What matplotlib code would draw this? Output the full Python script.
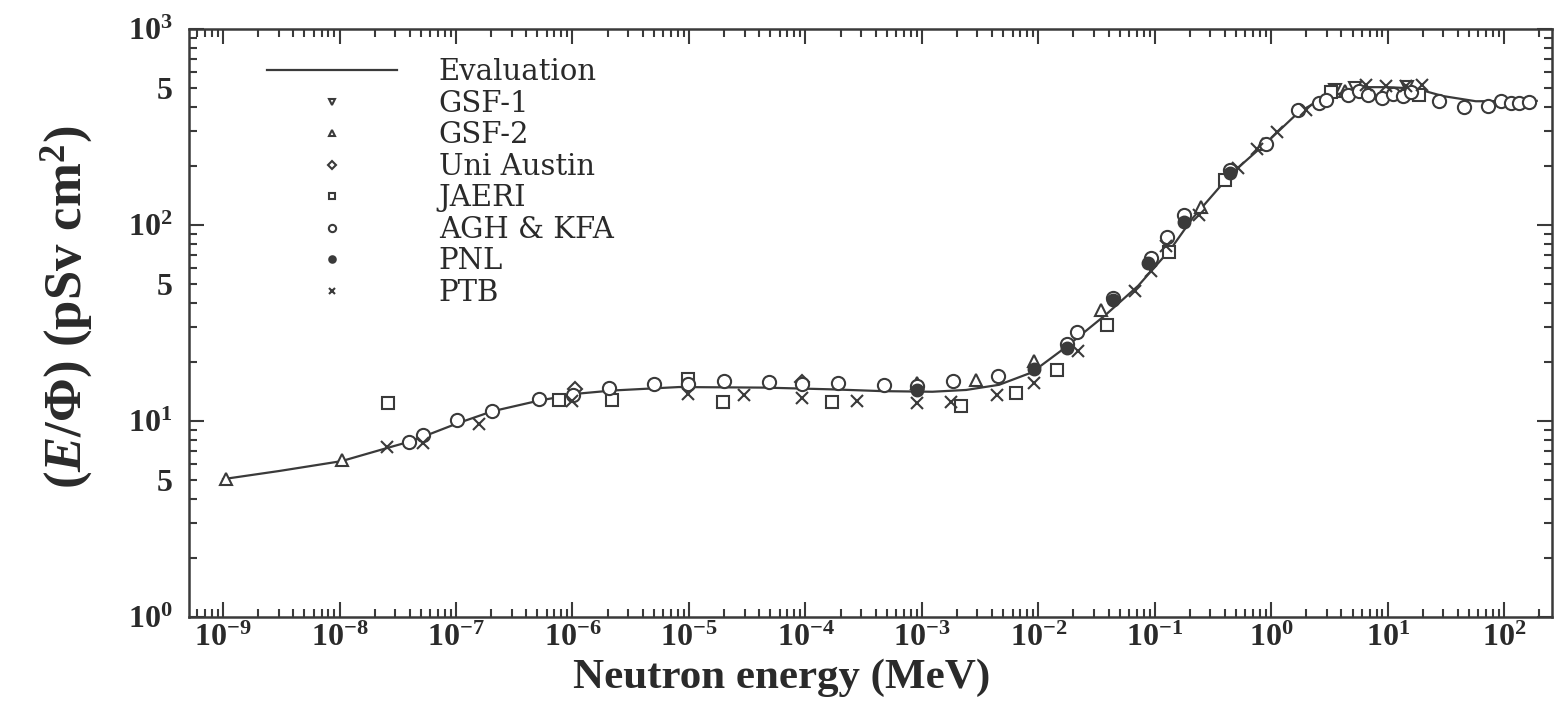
"""
Neutron fluence-to-effective-dose conversion coefficients: evaluation curve
against the measured data sets, log-log plot in the style of the scanned figure.
"""

import numpy as np
import matplotlib
matplotlib.use("Agg")
import matplotlib.pyplot as plt
from matplotlib.lines import Line2D
from matplotlib.legend_handler import HandlerLine2D
from matplotlib.ticker import FuncFormatter, NullFormatter

INK = "#3a3a3a"

# evaluation curve (MeV, pSv cm2)
EVAL_E = [1.0e-9, 3.05e-9, 1.04e-8, 2.58e-8, 4.22e-8, 1.02e-7, 2.04e-7, 5.13e-7,
          1.13e-6, 2.18e-6, 8.2e-6, 4.5e-5, 1.7e-4, 4.6e-4, 1.23e-3, 2.4e-3,
          4.6e-3, 8.8e-3, 1.72e-2, 3.8e-2, 7.2e-2, 0.137, 0.21, 0.45, 0.90,
          1.73, 2.93, 6.5, 10.0, 17.4, 29.7, 57.0, 190.0]
EVAL_H = [5.05, 5.56, 6.24, 7.29, 7.92, 9.71, 11.2, 12.7,
          13.8, 14.3, 14.9, 14.8, 14.5, 14.2, 14.1, 14.4,
          15.3, 17.7, 23.8, 34.9, 49.0, 75.5, 108.0, 182.0, 262.0,
          378.0, 450.0, 505.0, 505.0, 497.0, 455.0, 428.0, 430.0]

GSF1_E = [3.5, 5.2, 14.5]
GSF1_H = [490.0, 500.0, 505.0]

GSF2_E = [1.06e-9, 1.04e-8, 9.1e-4, 2.94e-3, 9.1e-3, 3.47e-2, 0.25, 0.84, 4.3]
GSF2_H = [5.06, 6.31, 15.7, 16.1, 20.3, 36.9, 123.0, 258.0, 485.0]

AUSTIN_E = [1.05e-6, 9.4e-5]
AUSTIN_H = [14.6, 15.9]

JAERI_E = [2.61e-8, 7.62e-7, 2.19e-6, 9.8e-6, 1.95e-5, 1.70e-4, 2.16e-3, 6.4e-3,
           1.45e-2, 3.85e-2, 0.132, 0.40, 3.23, 18.6]
JAERI_H = [12.4, 12.8, 12.8, 16.4, 12.5, 12.5, 11.9, 13.9,
           18.1, 30.9, 72.6, 170.0, 479.0, 458.0]

AGH_E = [3.91e-8, 5.21e-8, 1.02e-7, 2.04e-7, 5.13e-7, 1.02e-6, 2.04e-6, 4.98e-6,
         9.8e-6, 1.99e-5, 4.91e-5, 9.35e-5, 1.90e-4, 4.71e-4, 9.1e-4, 1.84e-3,
         4.51e-3, 1.75e-2, 2.13e-2, 4.38e-2, 9.22e-2, 0.128, 0.177, 0.44, 0.904,
         1.69, 2.55, 2.92, 4.51, 5.66, 6.70, 9.0, 11.0, 13.4, 15.8, 27.6, 45.3,
         72.0, 93.7, 114.0, 135.0, 164.0]
AGH_H = [7.82, 8.48, 10.1, 11.3, 13.0, 13.6, 14.8, 15.5,
         15.5, 16.0, 15.9, 15.5, 15.7, 15.2, 15.1, 16.0,
         16.9, 24.8, 28.5, 42.2, 68.2, 86.5, 112.0, 191.0, 258.0,
         384.0, 417.0, 434.0, 462.0, 481.0, 463.0, 446.0, 465.0, 457.0, 476.0, 428.0, 402.0,
         403.0, 429.0, 421.0, 421.0, 426.0]

PNL_E = [9.1e-4, 9.1e-3, 1.75e-2, 4.38e-2, 8.65e-2, 0.177, 0.44]
PNL_H = [14.4, 18.4, 23.6, 41.2, 64.3, 103.0, 185.0]

PTB_E = [2.58e-8, 5.22e-8, 1.56e-7, 9.9e-7, 9.8e-6, 2.96e-5, 9.4e-5, 2.79e-4,
         9.1e-4, 1.77e-3, 4.45e-3, 9.2e-3, 2.21e-2, 6.71e-2, 9.25e-2, 0.124,
         0.238, 0.520, 0.759, 1.11, 1.98, 6.46, 9.6, 14.3, 19.8]
PTB_H = [7.38, 7.72, 9.62, 12.6, 13.7, 13.5, 13.1, 12.7,
         12.4, 12.5, 13.5, 15.6, 22.7, 46.0, 58.3, 78.4,
         112.0, 196.0, 243.0, 297.0, 384.0, 517.0, 513.0, 514.0, 515.0]

X_RANGE = (5.1e-10, 257.0)
Y_RANGE = (1.0, 1000.0)


class LeftMarkerHandler(HandlerLine2D):
    """Legend handler that puts the marker at the left end of the handle."""

    def get_xdata(self, legend, xdescent, ydescent, width, height, fontsize):
        xdata = np.array([-xdescent, -xdescent + width], dtype=float)
        return xdata, np.array([-xdescent + 0.06 * width])


def decade_label(value, pos):
    return r"$\mathrm{10^{%d}}$" % int(round(np.log10(value)))


def five_label(value, pos):
    mantissa = value / 10 ** np.floor(np.log10(value) + 1e-9)
    return "5" if abs(mantissa - 5) < 0.01 else ""


def log_ticks(low, high):
    """Decade ticks and 2..9 minor ticks that lie inside [low, high]."""
    first, last = int(np.floor(np.log10(low))), int(np.ceil(np.log10(high)))
    major = [10.0 ** k for k in range(first, last + 1)]
    minor = [m * 10.0 ** k for k in range(first, last + 1) for m in range(2, 10)]
    keep = lambda vals: [v for v in vals if low * 0.999 <= v <= high * 1.001]
    return keep(major), keep(minor)


plt.rcParams.update({
    "font.family": "Liberation Serif",
    "font.weight": "bold",
    "mathtext.fontset": "custom",
    "mathtext.rm": "Liberation Serif:bold",
    "mathtext.it": "Liberation Serif:italic:bold",
    "mathtext.bf": "Liberation Serif:bold",
})

fig = plt.figure(figsize=(15.57, 7.06), dpi=100)
ax = fig.add_axes([0.1214, 0.1261, 0.8754, 0.8328])
ax.set_xscale("log")
ax.set_yscale("log")

ax.plot(EVAL_E, EVAL_H, color=INK, linewidth=1.6, label="Evaluation")

marker_style = dict(linestyle="none", markeredgecolor=INK, markeredgewidth=1.5)
ax.plot(GSF1_E, GSF1_H, marker="v", markersize=9, markerfacecolor="white", label="GSF-1", **marker_style)
ax.plot(GSF2_E, GSF2_H, marker="^", markersize=9, markerfacecolor="white", label="GSF-2", **marker_style)
ax.plot(AUSTIN_E, AUSTIN_H, marker="D", markersize=7, markerfacecolor="white", label="Uni Austin", **marker_style)
ax.plot(JAERI_E, JAERI_H, marker="s", markersize=9, markerfacecolor="white", label="JAERI", **marker_style)
ax.plot(AGH_E, AGH_H, marker="o", markersize=9.5, markerfacecolor="white", label="AGH & KFA", **marker_style)
ax.plot(PNL_E, PNL_H, marker="o", markersize=8.5, markerfacecolor=INK, label="PNL", **marker_style)
ax.plot(PTB_E, PTB_H, marker="x", markersize=9, color=INK, label="PTB", **marker_style)

ax.set_xlim(*X_RANGE)
ax.set_ylim(*Y_RANGE)

x_major, x_minor = log_ticks(*X_RANGE)
y_major, y_minor = log_ticks(*Y_RANGE)
ax.set_xticks(x_major)
ax.set_xticks(x_minor, minor=True)
ax.set_yticks(y_major)
ax.set_yticks(y_minor, minor=True)
ax.xaxis.set_major_formatter(FuncFormatter(decade_label))
ax.xaxis.set_minor_formatter(NullFormatter())
ax.yaxis.set_major_formatter(FuncFormatter(decade_label))
ax.yaxis.set_minor_formatter(FuncFormatter(five_label))

ax.tick_params(which="both", direction="in", top=True, right=True, width=1.5,
               color=INK, labelcolor="#2a2a2a", labelsize=23)
ax.tick_params(which="major", length=11)
ax.tick_params(which="minor", length=5.5)
ax.tick_params(axis="x", which="both", pad=5)
ax.tick_params(axis="y", which="both", pad=12)
for spine in ax.spines.values():
    spine.set_linewidth(1.8)
    spine.set_edgecolor(INK)

ax.set_xlabel("Neutron energy (MeV)", fontsize=31, fontweight="bold", color="#2a2a2a", va="center")
ax.xaxis.set_label_coords(0.435, -0.103)
ax.set_ylabel(r"$(\mathit{E/Φ})\ (\mathrm{pSv\ cm^2})$", fontsize=38, color="#2a2a2a",
              va="center", ha="center")
ax.yaxis.set_label_coords(-0.09, 0.527)

ax.legend(
    loc="upper left",
    bbox_to_anchor=(0.057, 0.95),
    frameon=False,
    prop={"family": "DejaVu Serif", "weight": "normal", "size": 21},
    labelcolor="#2a2a2a",
    handlelength=4.45,
    handletextpad=1.45,
    labelspacing=0.12,
    borderpad=0,
    borderaxespad=0,
    markerscale=0.55,
    handler_map={Line2D: LeftMarkerHandler()},
)

fig.savefig("out.png", dpi=100)
